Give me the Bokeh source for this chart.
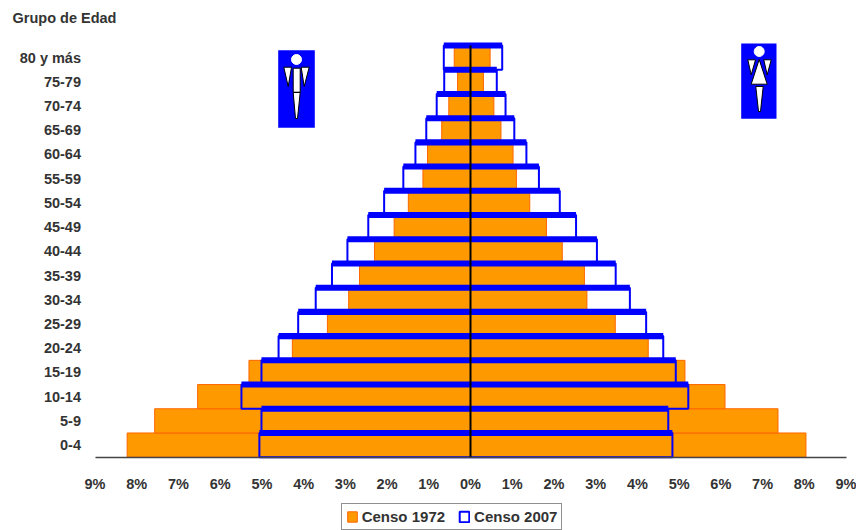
from bokeh.plotting import figure
from bokeh.embed import file_html
from bokeh.resources import INLINE
from bokeh.models import Label, Legend, LegendItem, FixedTicker, Range1d

# Age groups, bottom row first
age_groups = ["0-4", "5-9", "10-14", "15-19", "20-24", "25-29", "30-34", "35-39", "40-44",
              "45-49", "50-54", "55-59", "60-64", "65-69", "70-74", "75-79", "80 y más"]
# Percent of population
men_1972 = [8.23, 7.57, 6.54, 5.31, 4.27, 3.43, 2.92, 2.66, 2.30, 1.83, 1.49, 1.14, 1.03, 0.69, 0.52, 0.31, 0.39]
women_1972 = [8.04, 7.37, 6.10, 5.14, 4.26, 3.47, 2.79, 2.73, 2.20, 1.82, 1.42, 1.10, 1.02, 0.73, 0.56, 0.31, 0.47]
men_2007 = [5.06, 5.01, 5.49, 5.01, 4.60, 4.13, 3.71, 3.32, 2.95, 2.45, 2.07, 1.61, 1.32, 1.06, 0.81, 0.63, 0.64]
women_2007 = [4.84, 4.74, 5.22, 4.92, 4.62, 4.21, 3.82, 3.48, 3.03, 2.53, 2.14, 1.64, 1.34, 1.05, 0.84, 0.63, 0.76]
pct_ticks = list(range(-9, 10))

FONT = "Liberation Sans"
FS = "14.5px"
WEIGHT = "bold"
TEXT = "#333333"
BLUE = "#0000FF"

# Scale placement on the page (px): the frame fills the canvas, axes sit at fixed places
PX_L, PX_R, PX_T, PX_ZERO = 94.5, 845.5, 45.0, 456.7
W, H = 856, 530
ROW_PX = (PX_ZERO - PX_T) / len(age_groups)
PCT_PX = (PX_R - PX_L) / 18


def fx(px):
    return (px - (PX_L + PX_R) / 2) / PCT_PX


def fy(py):
    return (PX_ZERO - py) / ROW_PX


p = figure(width=W, height=H, output_backend="svg", toolbar_location=None,
           x_range=Range1d(fx(0), fx(W)), y_range=Range1d(fy(H), fy(0)),
           min_border_left=0, min_border_right=0, min_border_top=0, min_border_bottom=0,
           outline_line_color=None)
p.grid.visible = False

rows = [i + 0.5 for i in range(len(age_groups))]

orange = p.hbar(y=rows, left=[-v for v in men_1972], right=women_1972, height=1.0,
                fill_color="#FF9900", line_color="#FF6600", line_width=1)
blue = p.hbar(y=rows, left=[-v for v in men_2007], right=women_2007, height=1.0,
              fill_color=None, line_color=BLUE, line_width=2)
# Heavy top edge of every 2007 bar
p.hbar(y=[r + 0.5 for r in rows], left=[-v for v in men_2007], right=women_2007, height=0.25,
       fill_color=BLUE, line_color=None)

# Centre line
p.segment(x0=[0], x1=[0], y0=[0], y1=[len(age_groups)], line_color="black", line_width=2)

# Axes
xa = p.xaxis[0]
xa.fixed_location = 0
xa.bounds = (-9, 9)
xa.ticker = FixedTicker(ticks=pct_ticks)
xa.major_label_overrides = {t: f"{abs(t)}%" for t in pct_ticks}
xa.major_tick_line_color = None
xa.minor_tick_line_color = None
xa.axis_line_color = "#444444"
xa.axis_line_width = 1.5
xa.major_label_standoff = 13
xa.major_label_text_font = FONT
xa.major_label_text_font_size = FS
xa.major_label_text_font_style = WEIGHT
xa.major_label_text_color = TEXT

ya = p.yaxis[0]
ya.fixed_location = -9
ya.ticker = FixedTicker(ticks=rows)
ya.major_label_overrides = {r: g for r, g in zip(rows, age_groups)}
ya.major_tick_line_color = None
ya.minor_tick_line_color = None
ya.axis_line_color = None
ya.major_label_standoff = 8
ya.major_label_text_font = FONT
ya.major_label_text_font_size = FS
ya.major_label_text_font_style = WEIGHT
ya.major_label_text_color = TEXT

p.add_layout(Label(x=fx(12), y=fy(17.5), text="Grupo de Edad", text_font=FONT, text_font_size=FS,
                   text_font_style=WEIGHT, text_color=TEXT, text_baseline="middle", text_align="left"))


# Icons (decoration), drawn in page pixels
def icon(box, head, shapes):
    (x0, x1, y0, y1) = box
    p.quad(left=[fx(x0)], right=[fx(x1)], top=[fy(y0)], bottom=[fy(y1)], fill_color=BLUE, line_color=None)
    p.patches(xs=[[fx(a) for a, _ in s] for s in shapes], ys=[[fy(b) for _, b in s] for s in shapes],
              fill_color="white", line_color="black", line_width=1)
    p.scatter(x=[fx(head[0])], y=[fy(head[1])], size=10, marker="circle", fill_color="white",
              line_color="white")


icon((277.7, 314.3, 49.7, 127.3), (296, 59), [
    [(283.3, 66.7), (291, 66.7), (287.7, 86)],
    [(300.7, 66.7), (308.7, 66.7), (303.7, 86)],
    [(292.7, 67.7), (299.7, 67.7), (299.7, 91.7), (292.7, 91.7)],
    [(292.7, 92), (299.7, 92), (297, 118), (295, 118)],
])
icon((740.7, 776, 43, 118.3), (758.7, 51), [
    [(747.3, 59.3), (755, 59.3), (750.7, 74.3)],
    [(763.3, 59.3), (770.7, 59.3), (766.7, 74.3)],
    [(758.7, 59), (766.7, 83.7), (750.7, 83.7)],
    [(755.3, 86), (762.7, 86), (760, 111), (758, 111)],
])

legend = Legend(items=[LegendItem(label="Censo 1972", renderers=[orange]),
                       LegendItem(label="Censo 2007", renderers=[blue])],
                location=(340.7, 0.5), orientation="horizontal",
                border_line_color="#222222", border_line_width=1.5,
                background_fill_color="white", background_fill_alpha=1,
                label_text_font=FONT, label_text_font_size="15px", label_text_font_style=WEIGHT,
                label_text_color=TEXT,
                glyph_width=12, glyph_height=13, label_standoff=4, spacing=13,
                padding=4, margin=0, label_height=14)
p.add_layout(legend, "center")

open("out.html", "w").write(file_html(p, INLINE))
